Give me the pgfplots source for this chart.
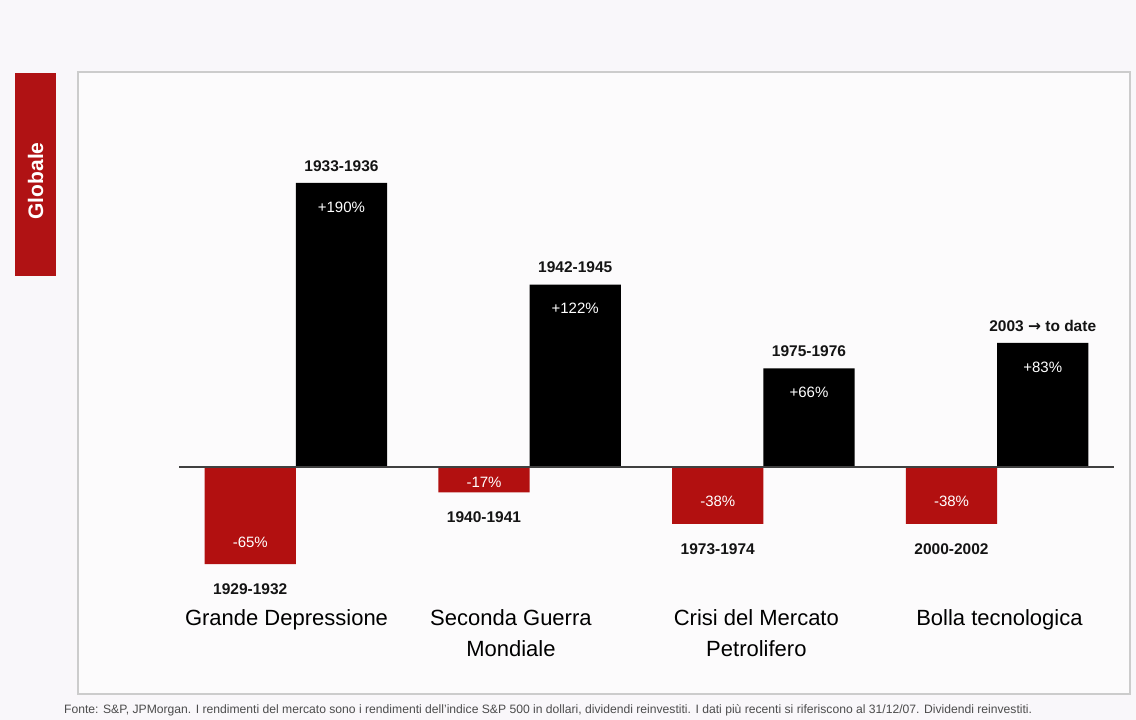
\documentclass[border=0pt]{standalone}
\usepackage{pgfplots}
\pgfplotsset{compat=1.18}
\usepackage{pgfplotstable}
\usepackage{fontspec}
\setmainfont{Liberation Sans}
\newfontfamily\dejavu{DejaVu Sans}
\protected\def\arr{{\dejavu\bfseries →}}

\definecolor{crisi}{RGB}{178,16,16}
\definecolor{linguetta}{RGB}{176,18,20}
\definecolor{carta}{RGB}{249,247,250}

% crolli (barre rosse)
\pgfplotstableread{
x y per
0 -65 1929-1932
1 -17 1940-1941
2 -38 1973-1974
3 -38 2000-2002
}\cadute

% riprese (barre nere)
\pgfplotstableread{
x y per
0 190 1933-1936
1 122 1942-1945
2 66 1975-1976
3 83 {2003 \arr{} to date}
}\riprese

\begin{document}
\begin{tikzpicture}[x=1pt, y=1pt,
    valore/.style={text=white, font=\fontsize{15}{17}\selectfont, anchor=center},
    periodo/.style={text=black!92, font=\bfseries\fontsize{15.5}{18}\selectfont, anchor=center}]
\fill[carta] (0,0) rectangle (1136,720);
\draw[gray!40, line width=1.2pt, fill=white!50!carta] (78,648) rectangle (1130,26);
\fill[linguetta] (15,444) rectangle (56,647);
\node[rotate=90, text=white, font=\bfseries\fontsize{21}{24}\selectfont] at (35.5,539) {Globale};
\node[anchor=west, text=black!70, inner sep=0pt] at (64,10) {\resizebox{968pt}{!}{\fontsize{10}{12}\selectfont Fonte: S\&P, JPMorgan. I rendimenti del mercato sono i rendimenti dell'indice S\&P 500 in dollari, dividendi reinvestiti. I dati più recenti si riferiscono al 31/12/07. Dividendi reinvestiti.}};

\begin{axis}[
    at={(179pt,114pt)}, anchor=south west,
    scale only axis,
    width=935pt, height=468pt,
    xmin=-0.5, xmax=3.5,
    ymin=-93, ymax=220,
    enlargelimits=false,
    axis line style={draw=none},
    major tick length=0pt,
    ytick=\empty,
    xtick={-0.04,0.92,1.97,3.01},
    xticklabels={Grande Depressione, {Seconda Guerra\\Mondiale}, {Crisi del Mercato\\Petrolifero}, Bolla tecnologica},
    xticklabel style={align=center, font=\fontsize{22}{31}\selectfont, text=black},
    ybar,
    bar width=0.39,
    clip=false,
]

% barre
\addplot[fill=crisi, draw=none, bar shift=-0.195] table[x=x, y=y] {\cadute};
\addplot[fill=black, draw=none, bar shift=0.195,
    point meta=y,
    nodes near coords={\pgfmathprintnumber[assume math mode=true, print sign]{\pgfplotspointmeta}\%},
    every node near coord/.append style={valore, yshift=-24pt}]
    table[x=x, y=y] {\riprese};

% valori dentro le barre rosse
\addplot[draw=none, fill=none, bar shift=-0.195,
    skip coords between index={1}{2},
    point meta=y,
    nodes near coords={\pgfmathprintnumber[assume math mode=true]{\pgfplotspointmeta}\%},
    every node near coord/.append style={valore, yshift=22pt}]
    table[x=x, y=y] {\cadute};
\addplot[draw=none, fill=none, bar shift=-0.195,
    restrict x to domain=0.9:1.1,
    point meta=y,
    nodes near coords={\pgfmathprintnumber[assume math mode=true]{\pgfplotspointmeta}\%},
    every node near coord/.append style={valore, yshift=10pt}]
    table[x=x, y=y] {\cadute};

% periodi
\addplot[draw=none, fill=none, bar shift=-0.195,
    point meta=explicit symbolic,
    nodes near coords,
    every node near coord/.append style={periodo, yshift=-25pt}]
    table[x=x, y=y, meta=per] {\cadute};
\addplot[draw=none, fill=none, bar shift=0.195,
    point meta=explicit symbolic,
    nodes near coords,
    every node near coord/.append style={periodo, yshift=17pt}]
    table[x=x, y=y, meta=per] {\riprese};

\draw[black!75, line width=1.6pt] (axis cs:-0.5,0) -- (axis cs:3.5,0);
\end{axis}
\end{tikzpicture}
\end{document}
